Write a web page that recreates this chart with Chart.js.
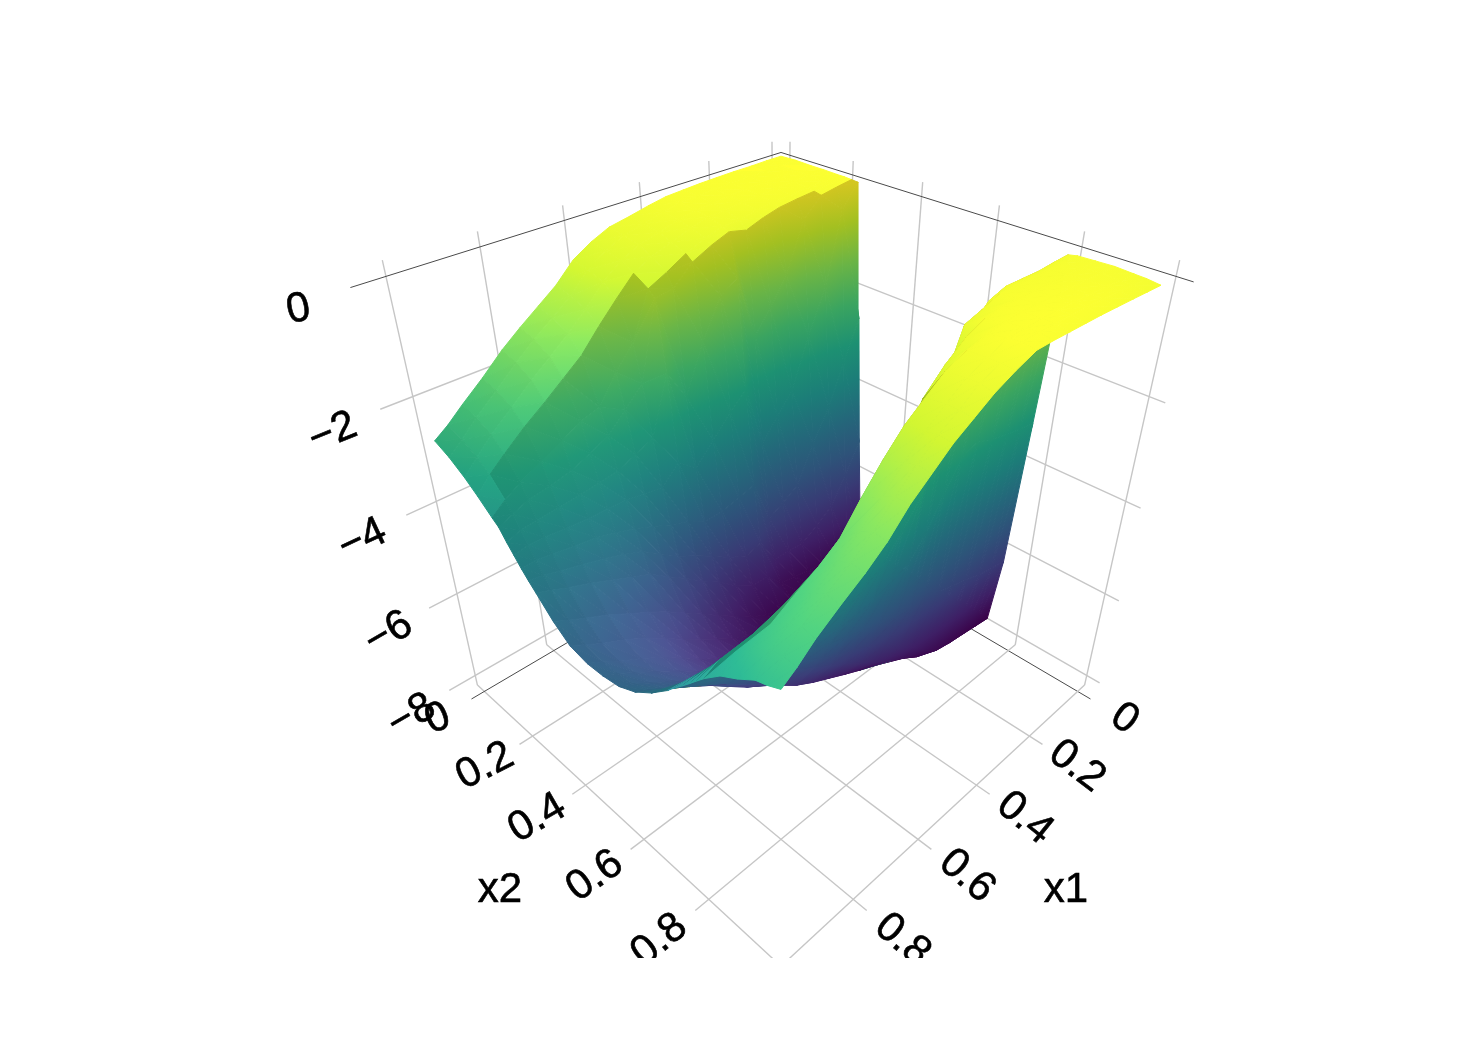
<!DOCTYPE html>
<html>
<head>
<meta charset="utf-8">
<title>x1 x2 surface</title>
<script src="https://cdn.jsdelivr.net/npm/chart.js@4/dist/chart.umd.min.js"></script>
<style>
html,body{margin:0;padding:0;background:#fff;}
canvas{display:block;}
</style>
</head>
<body>
<canvas id="surface" width="1470" height="1053"></canvas>
<script>
// values
const x1Grid = [-0.03,0.02,0.07,0.125,0.18,0.23,0.28,0.33,0.38,0.435,0.49,0.54,0.59,0.64,0.69,0.74,0.79,0.845,0.9,0.94,0.975];
const x2Grid = [-0.03,0.02,0.07,0.11,0.155,0.175,0.197,0.217,0.238,0.258,0.28,0.33,0.38,0.435,0.485,0.537,0.588,0.64,0.69,0.71,0.732,0.753,0.773,0.794,0.835,0.876,0.918,0.945,0.975];
const zRows = [
[-0.07,-0.06,-0.07,-0.07,-0.08,-0.08,-0.09,-0.1,-2.7,-5.41,-8,-8,-8,-8,-8,-8,-8,-8,-8,-8,-6.45,-3.32,-0.19,-0.16,-0.15,-0.14,-0.16,-0.17,-0.2],
[-0.07,-0.07,-0.07,-0.08,-0.1,-0.11,-0.13,-0.5,-3.5,-6.05,-7.95,-8,-8,-8,-8,-8,-8,-8,-8,-7.95,-6.4,-3.26,-0.2,-0.15,-0.14,-0.13,-0.14,-0.15,-0.18],
[-0.08,-0.08,-0.08,-0.1,-0.12,-0.15,-0.18,-1.85,-4.35,-6.64,-7.89,-8,-8,-8,-8,-8,-8,-8,-8,-7.9,-6.33,-3.2,-0.22,-0.14,-0.13,-0.12,-0.11,-0.12,-0.16],
[-0.08,-0.09,-0.09,-0.11,-0.14,-0.18,-0.5,-2.7,-5,-6.9,-7.82,-8,-8,-8,-8,-8,-8,-8,-7.97,-7.85,-6.2,-3.1,-0.21,-0.14,-0.12,-0.1,-0.09,-0.1,-0.14],
[-0.09,-0.1,-0.1,-0.13,-0.17,-0.22,-1.42,-3.7,-5.79,-7.14,-7.76,-8,-8,-8,-8,-8,-8,-8,-7.93,-7.77,-6.1,-2.97,-0.2,-0.14,-0.11,-0.09,-0.07,-0.08,-0.12],
[-0.1,-0.11,-0.12,-0.16,-0.21,-0.3,-1.9,-4.1,-6,-7.13,-7.7,-7.97,-8,-8,-8,-8,-7.99,-7.94,-7.78,-7.5,-6,-3.1,-0.3,-0.14,-0.1,-0.08,-0.06,-0.07,-0.11],
[-0.12,-0.13,-0.16,-0.2,-0.27,-0.41,-2.33,-4.52,-6.18,-7.12,-7.63,-7.93,-8,-8,-8,-8,-7.98,-7.87,-7.55,-7.2,-5.8,-3.6,-0.6,-0.25,-0.11,-0.07,-0.05,-0.06,-0.1],
[-0.14,-0.15,-0.18,-0.22,-0.28,-0.33,-1.1,-3.2,-5.2,-6.5,-7.25,-7.85,-7.95,-7.97,-7.97,-7.95,-7.9,-7.75,-7.35,-6.95,-5.9,-4.2,-1.6,-0.35,-0.15,-0.09,-0.06,-0.05,-0.09],
[-0.2,-0.21,-0.24,-0.3,-0.38,-0.45,-1.3,-3.5,-5.3,-6.6,-7.25,-7.76,-7.85,-7.89,-7.88,-7.82,-7.75,-7.59,-7.11,-6.58,-5.85,-4.59,-3.13,-1.2,-0.29,-0.13,-0.07,-0.06,-0.09],
[-0.28,-0.3,-0.34,-0.42,-0.52,-0.62,-2,-3.9,-5.4,-6.4,-7,-7.55,-7.7,-7.76,-7.75,-7.7,-7.6,-7.4,-6.85,-6.35,-5.75,-4.75,-3.6,-2,-0.55,-0.22,-0.2,-0.2,-0.22],
[-0.35,-0.38,-0.44,-0.55,-0.72,-0.95,-2.9,-4.3,-5.41,-6.13,-6.65,-7.26,-7.52,-7.61,-7.6,-7.54,-7.42,-7.2,-6.56,-6.14,-5.61,-4.88,-4.04,-3.1,-0.9,-0.36,-0.33,-0.33,-0.38],
[-0.5,-0.54,-0.6,-0.72,-0.88,-1,-2.3,-4,-5.2,-5.9,-6.4,-7,-7.32,-7.42,-7.43,-7.38,-7.26,-7.02,-6.35,-5.98,-5.5,-4.92,-4.25,-3.5,-1.5,-0.6,-0.55,-0.56,-0.58],
[-0.7,-0.75,-0.85,-1.05,-1.7,-2.4,-3.4,-4.34,-5.07,-5.69,-6.11,-6.72,-7.08,-7.22,-7.26,-7.2,-7.08,-6.81,-6.12,-5.81,-5.38,-4.96,-4.44,-3.81,-2.1,-0.85,-0.8,-0.75,-0.78],
[-1.03,-1.1,-1.2,-1.4,-2.1,-2.75,-3.55,-4.28,-4.9,-5.42,-5.84,-6.45,-6.83,-7,-7.04,-6.98,-6.83,-6.52,-5.9,-5.6,-5.22,-4.85,-4.38,-3.85,-2.4,-1.2,-1.1,-1.02,-1.05],
[-1.28,-1.35,-1.5,-1.78,-2.6,-3.08,-3.7,-4.22,-4.74,-5.15,-5.56,-6.18,-6.58,-6.78,-6.82,-6.76,-6.59,-6.22,-5.69,-5.37,-5.05,-4.73,-4.31,-3.89,-2.94,-1.6,-1.42,-1.32,-1.32],
[-1.53,-1.6,-1.78,-2.05,-2.7,-3.25,-3.75,-4.2,-4.62,-5,-5.4,-5.95,-6.3,-6.48,-6.52,-6.46,-6.3,-5.95,-5.4,-5.15,-4.85,-4.55,-4.18,-3.78,-2.95,-2.05,-1.75,-1.65,-1.68],
[-1.8,-1.88,-2.05,-2.32,-2.9,-3.4,-3.8,-4.2,-4.51,-4.87,-5.23,-5.74,-6.04,-6.19,-6.23,-6.16,-6,-5.67,-5.14,-4.93,-4.66,-4.4,-4.08,-3.71,-2.92,-2.29,-2.02,-1.92,-1.95],
[-2.15,-2.22,-2.38,-2.6,-3.1,-3.5,-3.84,-4.17,-4.45,-4.75,-5.05,-5.5,-5.8,-5.93,-5.95,-5.88,-5.72,-5.4,-4.92,-4.7,-4.46,-4.22,-3.95,-3.64,-3,-2.5,-2.27,-2.17,-2.2],
[-2.47,-2.55,-2.7,-2.92,-3.3,-3.56,-3.87,-4.13,-4.38,-4.64,-4.89,-5.3,-5.6,-5.7,-5.68,-5.62,-5.46,-5.13,-4.7,-4.49,-4.28,-4.06,-3.85,-3.58,-3.1,-2.73,-2.5,-2.42,-2.47],
[-2.72,-2.82,-2.98,-3.17,-3.48,-3.68,-3.9,-4.12,-4.33,-4.55,-4.76,-5.15,-5.42,-5.5,-5.48,-5.42,-5.26,-4.95,-4.55,-4.36,-4.16,-3.97,-3.78,-3.56,-3.2,-2.93,-2.74,-2.7,-2.72],
[-2.9,-3.04,-3.24,-3.44,-3.69,-3.79,-4,-4.17,-4.35,-4.5,-4.65,-5,-5.26,-5.35,-5.34,-5.28,-5.11,-4.84,-4.51,-4.35,-4.19,-4.03,-3.87,-3.71,-3.44,-3.27,-3.06,-3,-2.9]
];
const x1Ticks = [0,0.2,0.4,0.6,0.8,1];
const x2Ticks = [0,0.2,0.4,0.6,0.8,1];
const zTicks = [0,-2,-4,-6,-8];
const x1TickLabels = ["0","0.2","0.4","0.6","0.8"];
const x2TickLabels = ["0","0.2","0.4","0.6","0.8"];
const zTickLabels = ["0","\u22122","\u22124","\u22126","\u22128"];

const viridis = ["#440154","#482475","#414487","#355f8d","#2a788e","#21918c","#22a884","#44bf70","#7ad151","#bddf26","#fde725"];
const zMin = -8, zMax = 0;

// camera, fitted to the corners of the box
const camF = 1086, camW = 0.3174, camSin = 0.5763, camCos = 0.8172, camX0 = 781, camY0 = 501.4, camZ = 0.0553;
const boxLo = -0.03, boxHi = 1, boxBottom = -8.25, boxTop = 0.25;

function project(x1, x2, z) {
  const X = (x1 - boxLo) / (boxHi - boxLo) - 0.5;
  const Y = (x2 - boxLo) / (boxHi - boxLo) - 0.5;
  const a = camW * (X + Y), b = camW * (Y - X), Z = camZ * (z + 4);
  const depth = 1 - a * camCos - Z * camSin;
  const v = Z * camCos - a * camSin;
  return {x: camX0 + camF * b / depth, y: camY0 - camF * v / depth};
}

const canvas = document.getElementById("surface");
const ctx = canvas.getContext("2d");

function shadedStop(hex, f, lift) {
  const n = parseInt(hex.slice(1), 16);
  const c = [(n >> 16) & 255, (n >> 8) & 255, n & 255].map(v => Math.min(255, Math.round(v * f + lift)));
  return "rgb(" + c.join(",") + ")";
}

// light on a triangle: the walls all get the same value, the flat tops are bright,
// and the valley floor near x1 = 0.8 picks up a soft highlight
function triangleLight(v, triSlope, cellSlope) {
  const mx1 = (v[0][0]+v[1][0]+v[2][0])/3, mx2 = (v[0][1]+v[1][1]+v[2][1])/3;
  const mz = (v[0][2]+v[1][2]+v[2][2])/3;
  let top = 0;
  if (triSlope < 1.05 && mx2 > 0.7 && mz > -4.6) top = 1;
  if (cellSlope < 1.05 && mx2 < 0.19) top = mx1 < 0.7 ? 1 : 1 - 0.7*(mx1-0.7)/0.3;
  const bump = Math.exp(-Math.pow((mx1-0.78)/0.22,2) - Math.pow((mx2-0.42)/0.2,2));
  return {f: 0.86 + 0.2*top + 0.12*bump, lift: 10*top + 16*bump};
}

// one linear gradient per triangle so the colour follows z inside it
function triangleFill(v, triSlope, cellSlope) {
  const p = v.map(q => project(q[0], q[1], q[2]));
  const light = triangleLight(v, triSlope, cellSlope), f = light.f, lift = light.lift;
  const d1x = p[1].x-p[0].x, d1y = p[1].y-p[0].y, d2x = p[2].x-p[0].x, d2y = p[2].y-p[0].y;
  const det = d1x*d2y-d1y*d2x;
  const dz1 = v[1][2]-v[0][2], dz2 = v[2][2]-v[0][2];
  if (Math.abs(det) < 0.5 || (dz1 === 0 && dz2 === 0)) {
    const mean = (v[0][2]+v[1][2]+v[2][2])/3;
    const idx = Math.max(0, Math.min(10, Math.round((mean-zMin)/(zMax-zMin)*10)));
    return shadedStop(viridis[idx], f, lift);
  }
  const gx = (dz1*d2y-dz2*d1y)/det, gy = (d1x*dz2-d2x*dz1)/det;
  const g2 = gx*gx+gy*gy;
  const x0 = p[0].x+gx/g2*(zMin-v[0][2]), y0 = p[0].y+gy/g2*(zMin-v[0][2]);
  const x1 = p[0].x+gx/g2*(zMax-v[0][2]), y1 = p[0].y+gy/g2*(zMax-v[0][2]);
  const grad = ctx.createLinearGradient(x0, y0, x1, y1);
  viridis.forEach((c, i) => grad.addColorStop(i/10, shadedStop(c, f, lift)));
  return grad;
}

const datasets = [];
function gridLine(a, b, color, width) {
  datasets.push({
    data: [project(a[0],a[1],a[2]), project(b[0],b[1],b[2])],
    showLine: true, fill: false, borderColor: color, borderWidth: width, pointRadius: 0, tension: 0
  });
}

const gridColor = "#c6c6c6", zeroColor = "#4a4a4a";
const tickLen = 0.035, zTickLen = 0.07;

// floor and back walls
x1Ticks.forEach(t => {
  gridLine([t,boxLo,boxBottom],[t,boxHi+(t<1?tickLen:0),boxBottom], t===0?zeroColor:gridColor, t===0?1:1.4);
  gridLine([t,boxLo,boxBottom],[t,boxLo,boxTop], gridColor, 1.4);
});
x2Ticks.forEach(t => {
  gridLine([boxLo,t,boxBottom],[boxHi+(t<1?tickLen:0),t,boxBottom], t===0?zeroColor:gridColor, t===0?1:1.4);
  gridLine([boxLo,t,boxBottom],[boxLo,t,boxTop], gridColor, 1.4);
});
zTicks.forEach(t => {
  const c = t===0?zeroColor:gridColor, w = t===0?1:1.4;
  gridLine([boxHi+zTickLen,boxLo,t],[boxLo,boxLo,t], c, w);
  gridLine([boxLo,boxLo,t],[boxLo,boxHi+tickLen,t], c, w);
});

// surface, back to front
function pushTriangle(v, triSlope, cellSlope) {
  const pts = v.map(q => project(q[0], q[1], q[2]));
  pts.push(pts[0]);
  const paint = triangleFill(v, triSlope, cellSlope);
  datasets.push({data: pts, showLine: true, fill: "shape", backgroundColor: paint, borderColor: paint, borderWidth: 1, pointRadius: 0, tension: 0});
}
for (let i = 0; i < x1Grid.length-1; i++) {
  for (let j = 0; j < x2Grid.length-1; j++) {
    const A = [x1Grid[i],x2Grid[j],zRows[i][j]];
    const B = [x1Grid[i+1],x2Grid[j],zRows[i+1][j]];
    const C = [x1Grid[i],x2Grid[j+1],zRows[i][j+1]];
    const D = [x1Grid[i+1],x2Grid[j+1],zRows[i+1][j+1]];
    const dx2 = (x2Grid[j+1]-x2Grid[j])*8;
    const s1 = Math.abs(C[2]-A[2])/dx2, s2 = Math.abs(D[2]-B[2])/dx2;
    // the left band uses one slope per cell so no lone bright triangles appear
    pushTriangle([A,B,C], s1, Math.max(s1,s2));
    pushTriangle([B,D,C], s2, Math.max(s1,s2));
  }
}
// chart.js paints the lowest order last
datasets.forEach((d, i) => { d.order = -i; });

const labelFont = '42px "Liberation Sans", Arial, sans-serif';
const x1Angles = [35,37,39,41,40];
const x2Angles = [-22,-27,-30,-35,-39];
const zAngles = [-12,-22,-25,-30,-30];

const tickText = {
  id: "tickText",
  afterDraw(chart) {
    const c = chart.ctx, sx = chart.scales.x, sy = chart.scales.y, area = chart.chartArea;
    function put(text, p, deg) {
      c.save();
      c.translate(sx.getPixelForValue(p.x), sy.getPixelForValue(p.y));
      c.rotate(deg*Math.PI/180);
      c.strokeText(text, 0, 0);
      c.fillText(text, 0, 0);
      c.restore();
    }
    c.save();
    c.beginPath();
    c.rect(area.left, area.top, area.right-area.left, area.bottom-area.top);
    c.clip();
    c.font = labelFont;
    c.fillStyle = "#000";
    c.strokeStyle = "#000";
    c.lineWidth = 0.6;
    c.textAlign = "center";
    c.textBaseline = "middle";
    x1TickLabels.forEach((s, i) => put(s, project(x1Ticks[i], 1.125, boxBottom), x1Angles[i]));
    x2TickLabels.forEach((s, i) => put(s, project(1.125, x2Ticks[i], boxBottom), x2Angles[i]));
    zTickLabels.forEach((s, i) => put(s, project(1.17, boxLo, zTicks[i] - 0.08), zAngles[i]));
    put("x1", {x: 1066, y: 890}, 0);
    put("x2", {x: 500, y: 890}, 0);
    c.restore();
  }
};

new Chart(canvas, {
  type: "scatter",
  data: {datasets: datasets},
  options: {
    responsive: false,
    animation: false,
    events: [],
    layout: {padding: {left: 0, right: 0, top: 0, bottom: 95}},
    plugins: {legend: {display: false}, tooltip: {enabled: false}, title: {display: false}},
    scales: {
      x: {type: "linear", min: 0, max: 1470, display: false},
      y: {type: "linear", min: 0, max: 958, reverse: true, display: false}
    }
  },
  plugins: [tickText]
});
</script>
</body>
</html>
